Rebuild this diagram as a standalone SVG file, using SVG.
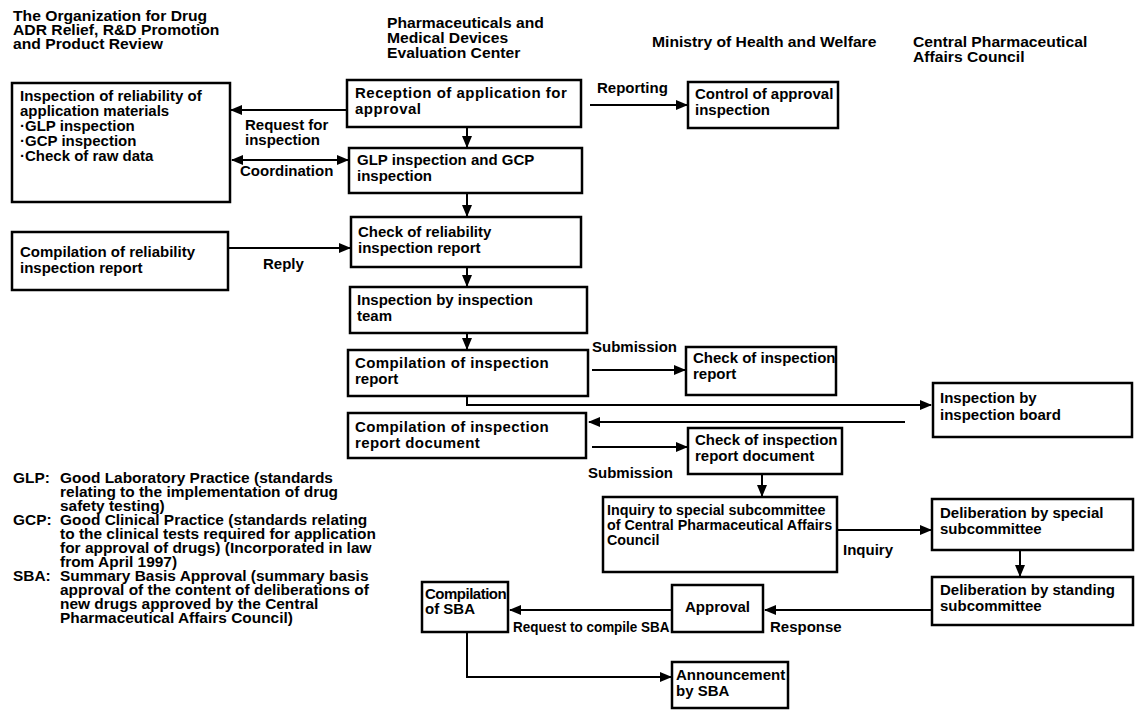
<svg xmlns="http://www.w3.org/2000/svg" width="1136" height="710" viewBox="0 0 1136 710">
<style>
text{font-family:"Liberation Sans",Arial,sans-serif;font-weight:bold;font-size:15px;fill:#000}
.wide text{font-size:14px}
.leg text{font-size:13.8px}
.box{fill:#fff;stroke:#000;stroke-width:2.5}
.ln{fill:none;stroke:#000;stroke-width:2}
</style>
<defs>
<marker id="ah" markerUnits="userSpaceOnUse" markerWidth="12" markerHeight="10" refX="11" refY="5" orient="auto-start-reverse" viewBox="0 0 12 10">
<path d="M0,0 L12,5 L0,10 z" fill="#000"/>
</marker>
</defs>
<rect width="1136" height="710" fill="#fff"/>

<g id="headers">
<g class="wide" transform="translate(13,0) scale(1.12,1)">
<text x="0" y="21">The Organization for Drug</text>
<text x="0" y="35">ADR Relief, R&amp;D Promotion</text>
<text x="0" y="49">and Product Review</text>
</g>
<g class="wide" transform="translate(387,0) scale(1.12,1)">
<text x="0" y="28">Pharmaceuticals and</text>
<text x="0" y="43">Medical Devices</text>
<text x="0" y="58">Evaluation Center</text>
</g>
<g class="wide" transform="translate(652,0) scale(1.12,1)">
<text x="0" y="47">Ministry of Health and Welfare</text>
</g>
<g class="wide" transform="translate(913,0) scale(1.12,1)">
<text x="0" y="47">Central Pharmaceutical</text>
<text x="0" y="62">Affairs Council</text>
</g>
</g>

<g id="connectors">
<line class="ln" x1="347" y1="110" x2="231" y2="110" marker-end="url(#ah)"/>
<line class="ln" x1="232" y1="160" x2="348" y2="160" marker-start="url(#ah)" marker-end="url(#ah)"/>
<line class="ln" x1="228" y1="248" x2="350" y2="248" marker-end="url(#ah)"/>
<line class="ln" x1="590" y1="105" x2="687" y2="105" marker-end="url(#ah)"/>
<line class="ln" x1="467" y1="127" x2="467" y2="147" marker-end="url(#ah)"/>
<line class="ln" x1="467" y1="193" x2="467" y2="216" marker-end="url(#ah)"/>
<line class="ln" x1="467" y1="267" x2="467" y2="286" marker-end="url(#ah)"/>
<line class="ln" x1="467" y1="333" x2="467" y2="349" marker-end="url(#ah)"/>
<line class="ln" x1="592" y1="370" x2="685" y2="370" marker-end="url(#ah)"/>
<polyline class="ln" points="467,396 467,405 931,405" marker-end="url(#ah)"/>
<line class="ln" x1="905" y1="422" x2="589" y2="422" marker-end="url(#ah)"/>
<line class="ln" x1="592" y1="447" x2="687" y2="447" marker-end="url(#ah)"/>
<line class="ln" x1="762" y1="474" x2="762" y2="496" marker-end="url(#ah)"/>
<line class="ln" x1="837" y1="530" x2="931" y2="530" marker-end="url(#ah)"/>
<line class="ln" x1="1020" y1="550" x2="1020" y2="576" marker-end="url(#ah)"/>
<line class="ln" x1="932" y1="610" x2="765" y2="610" marker-end="url(#ah)"/>
<line class="ln" x1="672" y1="610" x2="510" y2="610" marker-end="url(#ah)"/>
<polyline class="ln" points="467,632 467,677 671,677" marker-end="url(#ah)"/>
<text x="245" y="130">Request for</text>
<text x="245" y="145">inspection</text>
<text x="240" y="176">Coordination</text>
<text x="263" y="269">Reply</text>
<text x="597" y="93">Reporting</text>
<text x="592" y="352">Submission</text>
<text x="588" y="478">Submission</text>
<text x="843" y="555">Inquiry</text>
<text x="770" y="632">Response</text>
<text transform="translate(513,632) scale(0.9,1)" x="0" y="0">Request to compile SBA</text>
</g>

<g id="n-reliability">
<rect class="box" x="12" y="83" width="218" height="119"/>
<text x="20" y="101">Inspection of reliability of</text>
<text x="20" y="116">application materials</text>
<text x="20" y="131">·GLP inspection</text>
<text x="20" y="146">·GCP inspection</text>
<text x="20" y="161">·Check of raw data</text>
</g>
<g id="n-compile-rel">
<rect class="box" x="12" y="232" width="216" height="58"/>
<text x="20" y="257">Compilation of reliability</text>
<text x="20" y="273">inspection report</text>
</g>
<g id="n-reception">
<rect class="box" x="347" y="80" width="234" height="47"/>
<text x="355" y="98" style="letter-spacing:0.5px">Reception of application for</text>
<text x="355" y="114" style="letter-spacing:0.5px">approval</text>
</g>
<g id="n-control">
<rect class="box" x="688" y="82" width="150" height="46"/>
<text x="695" y="99">Control of approval</text>
<text x="695" y="115">inspection</text>
</g>
<g id="n-glp">
<rect class="box" x="349" y="148" width="233" height="45"/>
<text x="357" y="165">GLP inspection and GCP</text>
<text x="357" y="181">inspection</text>
</g>
<g id="n-check-rel">
<rect class="box" x="351" y="217" width="230" height="50"/>
<text x="358" y="237">Check of reliability</text>
<text x="358" y="253">inspection report</text>
</g>
<g id="n-team">
<rect class="box" x="350" y="287" width="237" height="46"/>
<text x="357" y="305">Inspection by inspection</text>
<text x="357" y="321">team</text>
</g>
<g id="n-compile-report">
<rect class="box" x="348" y="350" width="240" height="46"/>
<text x="355" y="368" style="letter-spacing:0.4px">Compilation of inspection</text>
<text x="355" y="384">report</text>
</g>
<g id="n-check-report">
<rect class="box" x="686" y="347" width="150" height="48"/>
<text x="693" y="363">Check of inspection</text>
<text x="693" y="379">report</text>
</g>
<g id="n-board">
<rect class="box" x="933" y="383" width="199" height="54"/>
<text x="940" y="403">Inspection by</text>
<text x="940" y="420">inspection board</text>
</g>
<g id="n-compile-doc">
<rect class="box" x="348" y="413" width="238" height="45"/>
<text x="355" y="432" style="letter-spacing:0.4px">Compilation of inspection</text>
<text x="355" y="448" style="letter-spacing:0.4px">report document</text>
</g>
<g id="n-check-doc">
<rect class="box" x="688" y="428" width="154" height="46"/>
<text x="695" y="445">Check of inspection</text>
<text x="695" y="461">report document</text>
</g>
<g id="n-inquiry">
<rect class="box" x="603" y="497" width="234" height="75"/>
<text x="607" y="515" style="font-size:14.3px">Inquiry to special subcommittee</text>
<text x="607" y="530" style="font-size:14.3px">of Central Pharmaceutical Affairs</text>
<text x="607" y="545" style="font-size:14.3px">Council</text>
</g>
<g id="n-special">
<rect class="box" x="932" y="499" width="201" height="51"/>
<text x="940" y="518">Deliberation by special</text>
<text x="940" y="534">subcommittee</text>
</g>
<g id="n-standing">
<rect class="box" x="932" y="577" width="201" height="48"/>
<text x="940" y="595">Deliberation by standing</text>
<text x="940" y="611">subcommittee</text>
</g>
<g id="n-approval">
<rect class="box" x="672" y="585" width="91" height="47"/>
<text x="685" y="612">Approval</text>
</g>
<g id="n-compile-sba">
<rect class="box" x="422" y="582" width="86" height="50"/>
<text x="425" y="599" style="letter-spacing:-0.5px">Compilation</text>
<text x="425" y="614">of SBA</text>
</g>
<g id="n-announce">
<rect class="box" x="672" y="662" width="116" height="46"/>
<text x="676" y="680">Announcement</text>
<text x="676" y="696">by SBA</text>
</g>

<g id="legend" class="leg" transform="translate(13,0) scale(1.12,1)">
<text x="0" y="483">GLP:</text>
<text x="42" y="483">Good Laboratory Practice (standards</text>
<text x="42" y="497">relating to the implementation of drug</text>
<text x="42" y="511">safety testing)</text>
<text x="0" y="525">GCP:</text>
<text x="42" y="525">Good Clinical Practice (standards relating</text>
<text x="42" y="539">to the clinical tests required for application</text>
<text x="42" y="553">for approval of drugs) (Incorporated in law</text>
<text x="42" y="567">from April 1997)</text>
<text x="0" y="581">SBA:</text>
<text x="42" y="581">Summary Basis Approval (summary basis</text>
<text x="42" y="595">approval of the content of deliberations of</text>
<text x="42" y="609">new drugs approved by the Central</text>
<text x="42" y="623">Pharmaceutical Affairs Council)</text>
</g>
</svg>
